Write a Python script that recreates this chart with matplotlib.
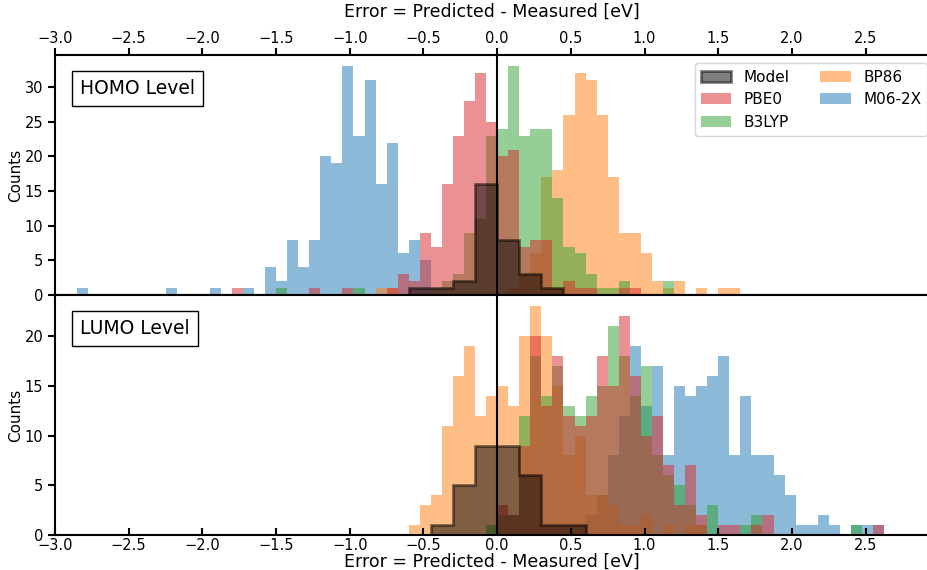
import numpy as np
import matplotlib.pyplot as plt

# bin widths used in the figure
bin_w = 0.075
model_w = 0.15

# HOMO level error counts (start = left edge of first bin)
homo_m062x_start = -2.85
homo_m062x = [1, 0, 0, 0, 0, 0, 0, 0, 1, 0, 0, 0, 1, 0, 0, 1, 0, 4, 2, 8, 4, 8,
              20, 19, 33, 23, 31, 16, 22, 6, 8, 5]
homo_pbe0_start = -1.8
homo_pbe0 = [1, 0, 0, 0, 0, 0, 0, 1, 0, 0, 1, 0, 0, 0, 1, 3, 2, 9, 7, 16, 23, 28,
             32, 25, 20, 21, 7, 8, 8, 1, 2, 1, 1, 0, 0, 1, 1]
homo_b3lyp_start = -1.5
homo_b3lyp = [1, 0, 0, 0, 0, 0, 0, 1, 0, 0, 0, 0, 0, 0, 1, 2, 3, 9, 11, 23, 24, 33,
              23, 24, 24, 14, 7, 6, 3, 1, 1, 2, 0, 0, 0, 2]
homo_bp86_start = -0.825
homo_bp86 = [1, 1, 0, 0, 0, 0, 0, 0, 0, 0, 0, 0, 1, 3, 6, 17, 18, 26, 32, 31, 26, 17,
             9, 9, 6, 2, 1, 2, 0, 1, 0, 1, 1]
homo_model_start = -0.6
homo_model = [1, 1, 2, 16, 8, 3, 1]

# LUMO level error counts
lumo_m062x_start = 0.6
lumo_m062x = [2, 4, 8, 12, 19, 13, 17, 8, 15, 14, 15, 16, 18, 8, 14, 8, 8, 6, 4, 1,
              1, 2, 1, 0, 1, 1, 1]
lumo_pbe0_start = 0.0
lumo_pbe0 = [3, 2, 9, 20, 13, 18, 12, 11, 12, 18, 15, 22, 16, 10, 12, 7, 3, 7, 2, 0,
             1, 1, 0, 1, 2, 0, 0, 0, 0, 0, 0, 0, 0, 0, 1]
lumo_b3lyp_start = -0.075
lumo_b3lyp = [1, 2, 2, 12, 18, 14, 17, 13, 12, 14, 15, 21, 18, 14, 17, 8, 6, 5, 3, 1,
              3, 0, 0, 1, 2, 0, 0, 0, 0, 0, 0, 0, 0, 1]
lumo_bp86_start = -0.6
lumo_bp86 = [1, 3, 4, 11, 16, 19, 12, 14, 15, 13, 20, 23, 20, 15, 8, 10, 4, 4, 3, 1,
             1, 2, 0, 1, 0, 1, 1]
lumo_model_start = -0.45
lumo_model = [1, 5, 9, 9, 6, 1, 1]

xticks = np.arange(-3.0, 2.51, 0.5)


def draw_hist(ax, start, counts, width, **kw):
    counts = np.asarray(counts, dtype=float)
    edges = start + width * np.arange(len(counts) + 1)
    centers = edges[:-1] + width / 2
    _, _, patches = ax.hist(centers, bins=edges, weights=counts,
                            histtype='stepfilled', **kw)
    return patches[0]


fig = plt.figure(figsize=(9.28, 5.70), dpi=100)
ax1 = fig.add_axes([55 / 928, 275 / 570, 874 / 928, 240 / 570])
ax2 = fig.add_axes([55 / 928, 35 / 570, 874 / 928, 240 / 570])

panels = [
    (ax1, 'HOMO Level', homo_m062x_start, homo_m062x, homo_bp86_start, homo_bp86,
     homo_b3lyp_start, homo_b3lyp, homo_pbe0_start, homo_pbe0,
     homo_model_start, homo_model),
    (ax2, 'LUMO Level', lumo_m062x_start, lumo_m062x, lumo_bp86_start, lumo_bp86,
     lumo_b3lyp_start, lumo_b3lyp, lumo_pbe0_start, lumo_pbe0,
     lumo_model_start, lumo_model),
]

for (ax, title, s_m06, c_m06, s_bp, c_bp, s_b3, c_b3, s_pbe, c_pbe,
     s_mod, c_mod) in panels:
    h_m06 = draw_hist(ax, s_m06, c_m06, bin_w, color='tab:blue', alpha=0.5,
                      linewidth=0, label='M06-2X')
    h_bp = draw_hist(ax, s_bp, c_bp, bin_w, color='tab:orange', alpha=0.5,
                     linewidth=0, label='BP86')
    h_b3 = draw_hist(ax, s_b3, c_b3, bin_w, color='tab:green', alpha=0.5,
                     linewidth=0, label='B3LYP')
    h_pbe = draw_hist(ax, s_pbe, c_pbe, bin_w, color='tab:red', alpha=0.5,
                      linewidth=0, label='PBE0')
    h_mod = draw_hist(ax, s_mod, c_mod, model_w, facecolor='black',
                      edgecolor='black', linewidth=2, alpha=0.5, label='Model')
    ax.axvline(0, color='black', linewidth=1.5, zorder=5)

    ax.set_xlim(-3.0, 2.93)
    ax.set_xticks(xticks)
    ax.set_ylabel('Counts', fontsize=11, labelpad=1)
    for side in ['top', 'bottom', 'left']:
        ax.spines[side].set_linewidth(1.5)
    ax.spines['right'].set_visible(False)
    ax.tick_params(axis='both', labelsize=10.5, width=1.5, length=5)
    ax.text(0.029, 0.86, title, transform=ax.transAxes, fontsize=13.5,
            ha='left', va='center',
            bbox=dict(boxstyle='square,pad=0.42', facecolor='white',
                      edgecolor='black', linewidth=1))
    if ax is ax1:
        handles = [h_mod, h_pbe, h_b3, h_bp, h_m06]

# top panel: x axis on top
ax1.xaxis.set_label_position('top')
ax1.tick_params(axis='x', top=True, bottom=True, labeltop=True,
                labelbottom=False, direction='out', pad=1.5)
ax1.set_xlabel('Error = Predicted - Measured [eV]', fontsize=12.5, labelpad=10)
ax1.legend(handles=handles, ncol=2, fontsize=11, loc='upper right',
           bbox_to_anchor=(0.998, 0.965), borderaxespad=0)

# bottom panel
ax2.tick_params(axis='x', direction='in', top=False, pad=2)
ax2.set_xlabel('Error = Predicted - Measured [eV]', fontsize=12.5, labelpad=0)

fig.savefig('out.png', dpi=100)
